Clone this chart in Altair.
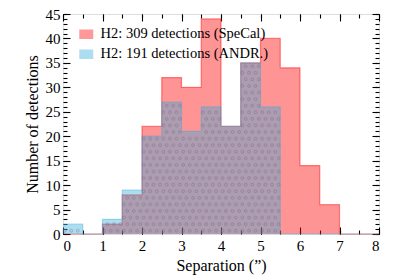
import altair as alt
import numpy as np
import pandas as pd

# ---- data (bin width 0.5 arcsec) ----
bin_edges = [0.0, 0.5, 1.0, 1.5, 2.0, 2.5, 3.0, 3.5, 4.0, 4.5, 5.0, 5.5, 6.0, 6.5, 7.0, 7.5, 8.0]
specal_counts = [0, 0, 2, 8, 22, 32, 30, 44, 22, 35, 40, 34, 14, 6, 0, 0]
andr_counts = [2, 0, 3, 9, 20, 27, 21, 26, 22, 35, 26, 0, 0, 0, 0, 0]
series_labels = ["H2: 309 detections (SpeCal)", "H2: 191 detections (ANDR.)"]
x_major = [0, 1, 2, 3, 4, 5, 6, 7, 8]
x_minor = [i * 0.5 for i in range(17)]
y_major = list(range(0, 46, 5))
y_minor = list(range(0, 46, 1))

FONT = "Liberation Serif"


def step_frame(counts, label):
    return pd.DataFrame({
        "edge": bin_edges,
        "count": counts + [counts[-1]],
        "series": label,
    })


red_df = step_frame(specal_counts, series_labels[0])
blue_df = step_frame(andr_counts, series_labels[1])

# hatch dots ('o' pattern) inside the ANDR bars, derived from the counts
sx = 0.5 / 3
sy = 45 / 220 * 6.58
dots = []
for i, c in enumerate(andr_counts):
    if c <= 0:
        continue
    start = bin_edges[i]
    row = 0
    y = sy * 0.5
    while y < c - 0.3:
        shift = 0.0 if row % 2 == 0 else sx / 2
        for k in range(3):
            x = start + sx * 0.25 + shift + k * sx
            if x < start + 0.5 - 0.03:
                dots.append({"x": x, "y": y})
        row += 1
        y += sy
dots_df = pd.DataFrame(dots)

xscale = alt.Scale(domain=[0, 8], nice=False, zero=False)
yscale = alt.Scale(domain=[0, 45], nice=False)
color_scale = alt.Scale(domain=series_labels, range=["#ff0000", "#31abdc"])

TICK_MAJ = alt.ExprRef(expr="-7")
TICK_MIN = alt.ExprRef(expr="-4")


def ax(orient, values, tick, labels=False, title=None, **kw):
    return alt.Axis(
        orient=orient, values=values, tickSize=tick, labels=labels,
        title=title, grid=False, domain=False, ticks=True,
        tickColor="black", tickWidth=1.1, **kw,
    )


x_bottom = ax("bottom", x_major, TICK_MAJ, labels=True, title="Separation (\u201d)",
              labelPadding=11, labelFont=FONT, labelFontSize=15, labelColor="black",
              titleFont=FONT, titleFontSize=16, titleFontWeight="normal", titleColor="black",
              titleX=158, titleY=36, titleBaseline="alphabetic", format="d")
y_left = ax("left", y_major, TICK_MAJ, labels=True, title="Number of detections",
            labelPadding=10, labelFont=FONT, labelFontSize=15, labelColor="black",
            titleFont=FONT, titleFontSize=16, titleFontWeight="normal", titleColor="black",
            titleX=-26, titleY=110, titleBaseline="alphabetic", titleAngle=270, format="d")

legend = alt.Legend(
    orient="none", legendX=16, legendY=13, title=None, padding=0,
    labelFont=FONT, labelFontSize=14.5, labelColor="black", labelOffset=7,
    symbolType="M-1,-0.68H1V0.68H-1Z", symbolSize=196, symbolOpacity=0.4,
    symbolStrokeWidth=0, rowPadding=5, labelLimit=300,
)

red_area = alt.Chart(red_df).mark_area(interpolate="step-after", opacity=0.42).encode(
    x=alt.X("edge:Q", scale=xscale, axis=x_bottom),
    y=alt.Y("count:Q", scale=yscale, axis=y_left),
    color=alt.Color("series:N", scale=color_scale, legend=legend, sort=series_labels),
)
red_line = alt.Chart(red_df).mark_line(interpolate="step-after", color="#ff0000",
                                        opacity=0.45, strokeWidth=1.2).encode(
    x=alt.X("edge:Q", scale=xscale, axis=ax("top", x_major, TICK_MAJ)),
    y=alt.Y("count:Q", scale=yscale, axis=ax("right", y_major, TICK_MAJ)),
)
blue_area = alt.Chart(blue_df).mark_area(interpolate="step-after", opacity=0.4).encode(
    x=alt.X("edge:Q", scale=xscale, axis=ax("bottom", x_minor, TICK_MIN)),
    y=alt.Y("count:Q", scale=yscale, axis=ax("left", y_minor, TICK_MIN)),
    color=alt.Color("series:N", scale=color_scale, legend=legend, sort=series_labels),
)
blue_line = alt.Chart(blue_df).mark_line(interpolate="step-after", color="#31abdc",
                                          opacity=0.4, strokeWidth=1.2).encode(
    x=alt.X("edge:Q", scale=xscale, axis=ax("top", x_minor, TICK_MIN)),
    y=alt.Y("count:Q", scale=yscale, axis=ax("right", y_minor, TICK_MIN)),
)
dot_layer = alt.Chart(dots_df).mark_point(shape="circle", filled=False, size=8,
                                           strokeWidth=0.8, color="#7a5f85",
                                           opacity=0.5).encode(
    x=alt.X("x:Q", scale=xscale, axis=None),
    y=alt.Y("y:Q", scale=yscale, axis=None),
)

chart = alt.layer(red_area, red_line, blue_area, blue_line, dot_layer).resolve_axis(
    x="independent", y="independent"
).properties(
    width=316, height=220,
    autosize=alt.AutoSizeParams(type="none"),
    padding={"left": 55, "top": 6, "right": 12, "bottom": 42},
).configure_view(stroke="black", strokeWidth=1.5).configure(background="white")

chart.save("out.html", embed_options={"renderer": "svg", "actions": False})
